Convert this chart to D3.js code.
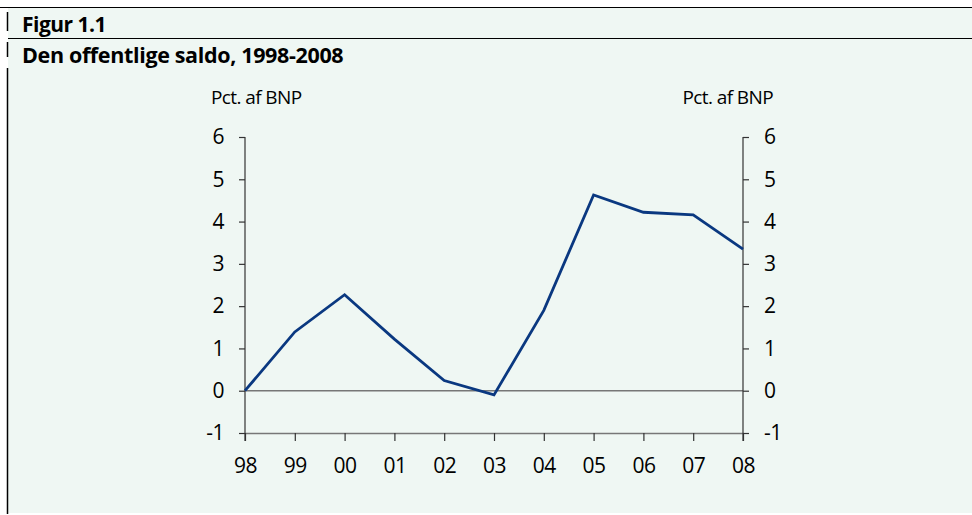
<!DOCTYPE html>
<html><head><meta charset="utf-8">
<script src="https://cdn.jsdelivr.net/npm/d3@7"></script>
<style>
html,body{margin:0;padding:0;background:#fff;}
svg{display:block;}
</style></head>
<body>
<svg id="chart" width="972" height="515"></svg>
<script>
const years = ["98","99","00","01","02","03","04","05","06","07","08"];
const saldo = [0.0, 1.39, 2.27, 1.22, 0.24, -0.1, 1.9, 4.63, 4.22, 4.16, 3.35];
const yTicks = [-1,0,1,2,3,4,5,6];
const figLabel = "Figur 1.1";
const title = "Den offentlige saldo, 1998-2008";
const unitLabel = "Pct. af BNP";

const svg = d3.select("#chart");
const font = "'Open Sans', 'Noto Sans', sans-serif";

// background panel
svg.append("rect").attr("x",8).attr("y",8).attr("width",964).attr("height",505).attr("fill","#eff7f3");
svg.append("line").attr("x1",0).attr("x2",972).attr("y1",7.5).attr("y2",7.5).attr("stroke","#000").attr("stroke-width",1.2);
svg.append("line").attr("x1",8).attr("x2",972).attr("y1",38.5).attr("y2",38.5).attr("stroke","#000").attr("stroke-width",1.2);
[[12,31],[42,57],[68,514]].forEach(([a,b])=>{
  svg.append("line").attr("x1",7.5).attr("x2",7.5).attr("y1",a).attr("y2",b).attr("stroke","#000").attr("stroke-width",1.5);
});
svg.append("text").attr("x",22).attr("y",32).attr("font-family",font).attr("font-weight",700)
  .attr("font-size",21).attr("letter-spacing",-0.5).attr("fill","#000").text(figLabel);
svg.append("text").attr("x",22).attr("y",63).attr("font-family",font).attr("font-weight",700)
  .attr("font-size",21.5).attr("letter-spacing",-0.35).attr("fill","#000").text(title);

const x = d3.scalePoint().domain(years).range([245,743]);
const y = d3.scaleLinear().domain([-1,6]).range([433,137]);
const fmt = d => String(d).replace("\u2212","-");

svg.append("line").attr("x1",x.range()[0]).attr("x2",x.range()[1]).attr("y1",y(0)).attr("y2",y(0)).attr("stroke","#777").attr("stroke-width",1.5);

const tickStyle = g => {
  g.attr("font-size",21).attr("font-family",font);
  g.select(".domain").attr("stroke","#333").attr("stroke-width",1.2);
  g.selectAll(".tick line").attr("stroke","#333").attr("stroke-width",1.2);
  g.selectAll(".tick text").attr("font-family",font).attr("font-size",21).attr("letter-spacing",-0.5).attr("fill","#000");
};

const gx = svg.append("g").attr("transform",`translate(0,${y(-1)})`)
  .call(d3.axisBottom(x).tickSize(8).tickSizeOuter(0).tickPadding(17)).call(tickStyle);
gx.select(".domain").attr("stroke","#777").attr("stroke-width",1.5);

const gl = svg.append("g").attr("transform",`translate(${x.range()[0]},0)`)
  .call(d3.axisLeft(y).tickValues(yTicks).tickFormat(fmt).tickSize(6).tickSizeOuter(0).tickPadding(13)).call(tickStyle);
gl.select(".domain").attr("d",`M0,${y(6)}V${y(-1)+8}`);
const gr = svg.append("g").attr("transform",`translate(${x.range()[1]},0)`)
  .call(d3.axisRight(y).tickValues(yTicks).tickFormat(fmt).tickSize(6).tickSizeOuter(0).tickPadding(13)).call(tickStyle);
gr.select(".domain").attr("d",`M0,${y(6)}V${y(-1)+8}`);
gl.selectAll(".tick text").attr("dx",-2);
gr.selectAll(".tick text").attr("dx",2);

svg.append("text").attr("x",211).attr("y",104).attr("font-family",font).attr("font-size",19)
  .attr("letter-spacing",-0.6).attr("fill","#000").text(unitLabel);
svg.append("text").attr("x",773).attr("y",104).attr("text-anchor","end").attr("font-family",font).attr("font-size",19)
  .attr("letter-spacing",-0.6).attr("fill","#000").text(unitLabel);

const line = d3.line().x((d,i)=>x(years[i])).y(d=>y(d));
svg.append("path").datum(saldo).attr("d",line).attr("fill","none")
  .attr("stroke","#0a3880").attr("stroke-width",2.8).attr("stroke-linejoin","miter");
</script>
</body></html>
